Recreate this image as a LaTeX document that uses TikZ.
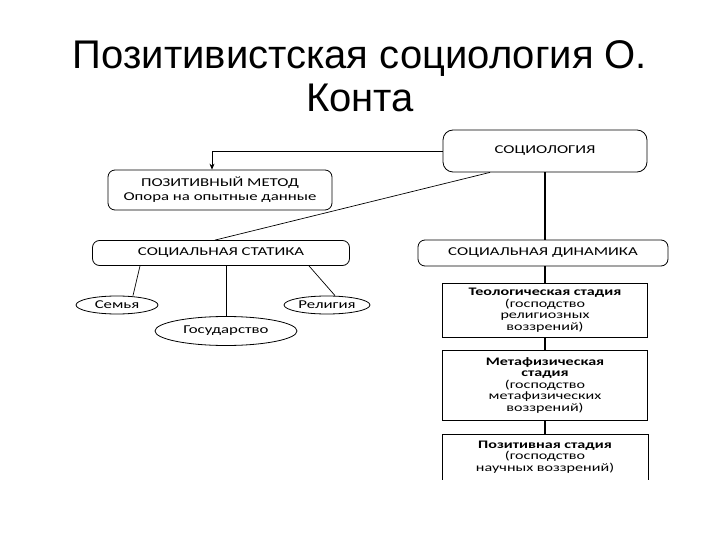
\documentclass[tikz,border=0pt]{standalone}
\usepackage{fontspec}
\setmainfont{Liberation Sans}
\newfontfamily\diagfont[FakeStretch=1.4]{Carlito}
\usetikzlibrary{
    arrows.meta,
    shapes.geometric,
    calc,
    positioning
}
\tikzset{
    roundbox/.style={draw, rounded corners=7pt, line width=0.8pt, font=\diagfont\fontsize{12}{14}\selectfont, align=center, inner sep=2pt},
    ovalbox/.style={draw, ellipse, line width=0.8pt, font=\diagfont\fontsize{12}{14}\selectfont, inner sep=0pt},
    stagebox/.style={draw, rectangle, line width=0.8pt, font=\diagfont\fontsize{11.5}{11.5}\selectfont, align=center, minimum width=205pt, inner sep=2pt},
    thinlink/.style={line width=0.7pt},
    thicklink/.style={line width=2pt}
}

\begin{document}
\begin{tikzpicture}[x=1pt, y=-1pt]
                        \useasboundingbox (0, 0) rectangle (720, 540);
                        \fill[white] (0, 0) rectangle (720, 540);
                        \node[align=center, anchor=base, font=\fontsize{40}{43}\selectfont] (title) at (360, 112) {Позитивистская социология О.\\Конта};

                        \node[roundbox, rounded corners=10pt, minimum width=204pt, minimum height=42pt] (soc) at (545, 151) {СОЦИОЛОГИЯ};
                        \node[roundbox, minimum width=224pt, minimum height=40pt] (method) at (220, 190) {ПОЗИТИВНЫЙ МЕТОД\\Опора на опытные данные};
                        \node[roundbox, minimum width=257pt, minimum height=25pt] (statics) at (221, 253) {СОЦИАЛЬНАЯ СТАТИКА};
                        \node[roundbox, minimum width=250pt, minimum height=26pt] (dynamics) at (543, 253) {СОЦИАЛЬНАЯ ДИНАМИКА};

                        \node[ovalbox, minimum width=82pt, minimum height=18pt] (family) at (117, 305) {Семья};
                        \node[ovalbox, minimum width=142pt, minimum height=29pt] (state) at (226, 331) {Государство};
                        \node[ovalbox, minimum width=86pt, minimum height=18pt] (religion) at (327, 305) {Религия};

                        \node[stagebox, minimum height=54pt] (theo) at (545, 310) {\textbf{Теологическая стадия}\\(господство\\религиозных\\воззрений)};
                        \node[stagebox, minimum height=70pt] (meta) at (545, 385) {\textbf{Метафизическая}\\\textbf{стадия}\\(господство\\метафизических\\воззрений)};
                        \node[stagebox, draw=none, minimum height=45pt] (posit) at (545, 457) {\textbf{Позитивная стадия}\\(господство\\научных воззрений)};
                        \draw[line width=0.8pt] (posit.south west) -- (posit.north west) -- (posit.north east) -- (posit.south east);

                        \draw[thinlink, -{Stealth[length=6pt, width=5pt]}] (soc.west) -| ([xshift=-8pt]method.north);
                        \draw[thinlink] ([xshift=-55pt]soc.south) -- ([xshift=-6pt]statics.north);
                        \draw[thicklink] (soc.south) -- (soc.south |- dynamics.north);

                        \draw[thinlink] ([xshift=-81pt]statics.south) -- ($(family.north)+(16pt, 0)$);
                        \draw[thinlink] (statics.south -| state.north) -- (state.north);
                        \draw[thinlink] ([xshift=88pt]statics.south) -- ($(religion.north)+(8pt, 0)$);

                        \draw[thicklink] (dynamics.south -| theo.north) -- (theo.north);
                        \draw[thicklink] (theo.south) -- (meta.north);
                        \draw[thicklink] (meta.south) -- (posit.north);
\end{tikzpicture}
\end{document}
